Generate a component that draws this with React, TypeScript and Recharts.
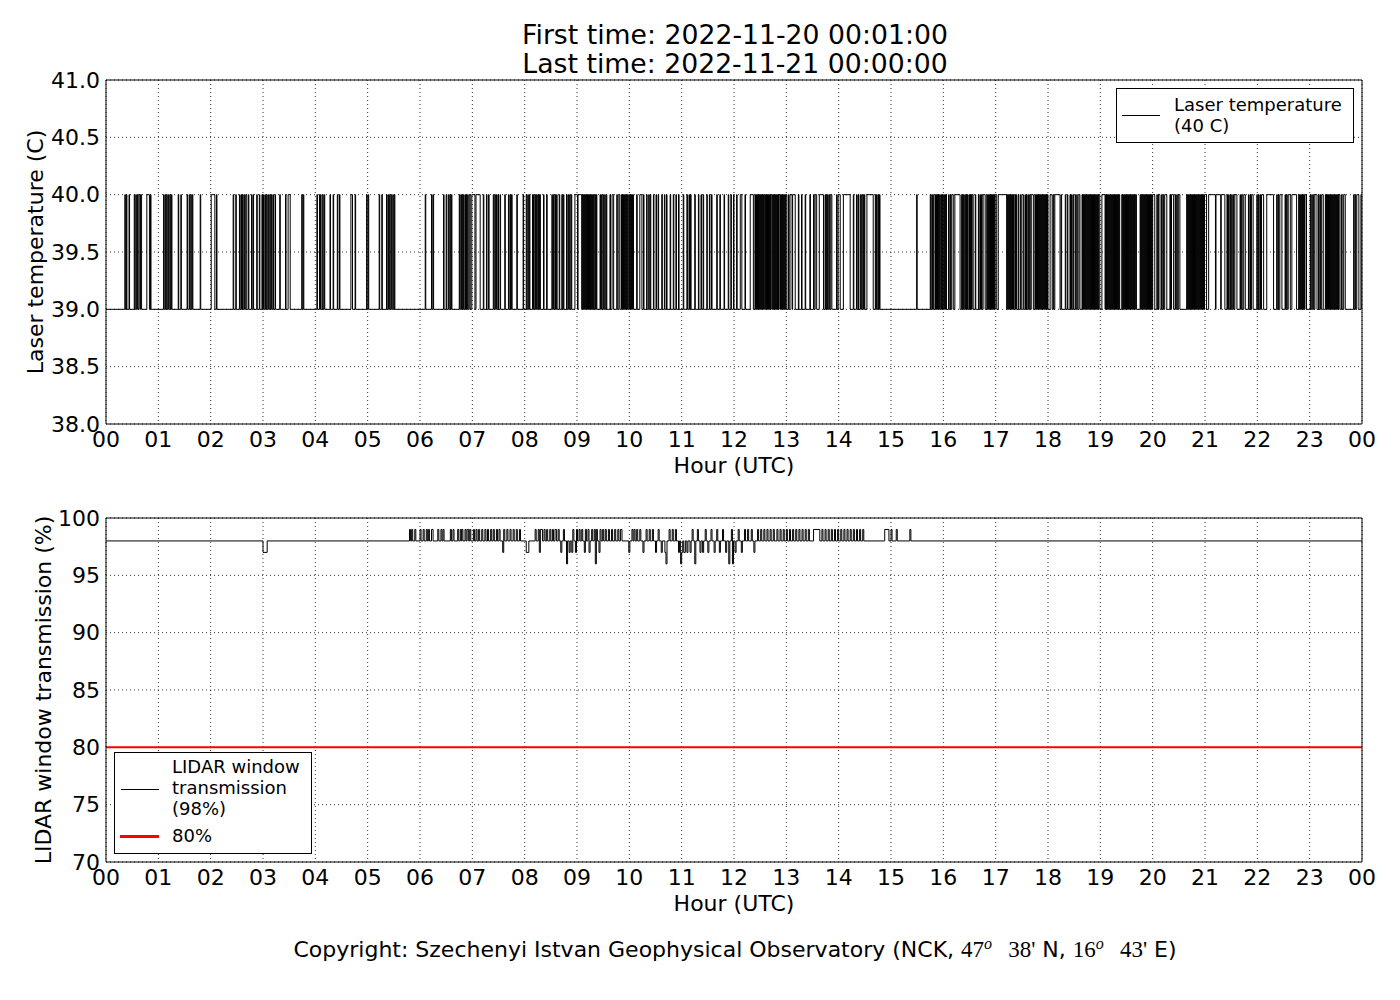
import React from "react";
import {
  LineChart,
  Line,
  XAxis,
  YAxis,
  CartesianGrid,
  ReferenceLine,
  Legend,
} from "recharts";

const FONT = "'DejaVu Sans', sans-serif";
const MATH = "'Liberation Serif', 'DejaVu Serif', serif";

const hourTicks = [0, 1, 2, 3, 4, 5, 6, 7, 8, 9, 10, 11, 12, 13, 14, 15, 16, 17, 18, 19, 20, 21, 22, 23, 24];
const laserTicks = [38, 38.5, 39, 39.5, 40, 40.5, 41];
const lidarTicks = [70, 75, 80, 85, 90, 95, 100];

const laserLow = 39;
const laserHigh = 40;
const lidarThreshold = 80;

// hours (UTC) where the laser sat at 40 C
const laserHighSpans: [number, number][] = [
  [0.36, 0.37], [0.39, 0.4], [0.44, 0.45], [0.54, 0.55], [0.57, 0.58], [0.6, 0.61], [0.63, 0.65], [0.66, 0.68], [0.78, 0.83], [0.85, 0.86],
  [1.1, 1.11], [1.13, 1.14], [1.16, 1.17], [1.19, 1.2], [1.22, 1.23], [1.25, 1.26], [1.38, 1.39], [1.43, 1.44], [1.55, 1.56], [1.59, 1.6], [1.62, 1.63], [1.65, 1.66], [1.8, 1.81],
  [2.01, 2.08], [2.11, 2.12], [2.43, 2.44], [2.48, 2.49], [2.55, 2.56], [2.58, 2.59], [2.61, 2.62], [2.64, 2.65], [2.67, 2.69], [2.72, 2.73], [2.78, 2.79], [2.81, 2.82], [2.88, 2.89], [2.93, 2.94], [2.98, 2.99],
  [3.01, 3.02], [3.04, 3.05], [3.07, 3.08], [3.1, 3.11], [3.13, 3.14], [3.16, 3.17], [3.19, 3.2], [3.23, 3.24], [3.32, 3.33], [3.43, 3.44], [3.48, 3.52], [3.74, 3.75], [3.77, 3.78],
  [4.03, 4.04], [4.08, 4.09], [4.1, 4.11], [4.14, 4.15], [4.17, 4.18], [4.28, 4.29], [4.34, 4.35], [4.42, 4.43], [4.46, 4.47], [4.68, 4.71], [4.76, 4.77], [4.98, 4.99],
  [5.01, 5.02], [5.22, 5.23], [5.27, 5.28], [5.36, 5.37], [5.39, 5.4], [5.42, 5.43], [5.45, 5.46], [5.48, 5.49], [5.51, 5.52],
  [6.1, 6.11], [6.22, 6.23], [6.25, 6.26], [6.45, 6.46], [6.5, 6.51], [6.54, 6.55], [6.57, 6.58], [6.6, 6.61], [6.75, 6.76], [6.78, 6.79], [6.8, 6.81], [6.83, 6.84], [6.86, 6.87], [6.88, 6.89], [6.91, 6.92], [6.94, 6.96], [6.99, 7.05],
  [7.07, 7.15], [7.21, 7.22], [7.27, 7.28], [7.31, 7.32], [7.4, 7.41], [7.43, 7.44], [7.46, 7.47], [7.49, 7.5], [7.53, 7.54], [7.62, 7.63], [7.69, 7.7], [7.72, 7.73], [7.75, 7.76], [7.85, 7.86], [7.97, 7.98],
  [8.03, 8.04], [8.06, 8.07], [8.09, 8.1], [8.15, 8.16], [8.17, 8.18], [8.2, 8.21], [8.22, 8.23], [8.25, 8.26], [8.27, 8.28], [8.29, 8.3], [8.36, 8.37], [8.42, 8.43], [8.52, 8.53], [8.55, 8.56], [8.58, 8.59], [8.61, 8.62], [8.66, 8.67], [8.71, 8.72], [8.74, 8.75], [8.8, 8.81], [8.83, 8.84], [8.86, 8.87], [8.89, 8.9], [8.96, 9.01],
  [9.02, 9.09], [9.1, 9.11], [9.12, 9.13], [9.14, 9.15], [9.16, 9.17], [9.18, 9.19], [9.2, 9.21], [9.22, 9.23], [9.24, 9.25], [9.26, 9.27], [9.28, 9.29], [9.3, 9.31], [9.32, 9.33], [9.35, 9.36], [9.37, 9.38], [9.44, 9.45], [9.47, 9.48], [9.5, 9.51], [9.53, 9.54], [9.56, 9.57], [9.63, 9.64], [9.67, 9.7], [9.76, 9.77], [9.8, 9.82], [9.85, 9.86], [9.87, 9.88], [9.89, 9.9], [9.91, 9.92], [9.93, 9.94], [9.95, 9.96], [9.97, 9.98],
  [10.0, 10.01], [10.02, 10.03], [10.04, 10.05], [10.06, 10.08], [10.14, 10.15], [10.2, 10.24], [10.27, 10.28], [10.33, 10.34], [10.37, 10.38], [10.4, 10.41], [10.46, 10.47], [10.51, 10.52], [10.55, 10.56], [10.62, 10.63], [10.67, 10.68], [10.71, 10.72], [10.78, 10.79], [10.84, 10.85], [10.89, 10.9], [10.94, 10.95],
  [11.03, 11.04], [11.1, 11.11], [11.14, 11.15], [11.17, 11.18], [11.25, 11.26], [11.32, 11.33], [11.37, 11.38], [11.41, 11.42], [11.48, 11.49], [11.53, 11.54], [11.57, 11.58], [11.67, 11.68], [11.73, 11.74], [11.81, 11.82], [11.89, 11.9], [11.94, 11.95], [11.99, 12.0],
  [12.05, 12.06], [12.12, 12.15], [12.21, 12.22], [12.31, 12.37], [12.4, 12.41], [12.42, 12.43], [12.44, 12.45], [12.46, 12.47], [12.48, 12.49], [12.5, 12.51], [12.52, 12.53], [12.54, 12.55], [12.56, 12.57], [12.58, 12.6], [12.61, 12.62], [12.63, 12.64], [12.65, 12.66], [12.67, 12.68], [12.69, 12.7], [12.71, 12.73], [12.74, 12.75], [12.76, 12.77], [12.78, 12.79], [12.8, 12.81], [12.82, 12.83], [12.84, 12.85], [12.86, 12.88], [12.89, 12.9], [12.91, 12.92], [12.93, 12.94], [12.95, 12.96], [12.97, 12.98], [12.99, 13.01],
  [13.04, 13.05], [13.07, 13.11], [13.12, 13.17], [13.23, 13.24], [13.29, 13.3], [13.36, 13.37], [13.45, 13.46], [13.52, 13.53], [13.55, 13.58], [13.63, 13.71], [13.74, 13.75], [13.77, 13.78], [13.79, 13.8], [13.82, 13.83], [13.85, 13.87], [13.96, 13.97], [13.99, 14.03],
  [14.09, 14.22], [14.28, 14.29], [14.34, 14.35], [14.37, 14.38], [14.41, 14.42], [14.44, 14.45], [14.47, 14.48], [14.49, 14.5], [14.54, 14.66], [14.7, 14.71], [14.72, 14.73], [14.75, 14.76], [14.78, 14.79],
  [15.49, 15.5], [15.75, 15.76], [15.78, 15.79], [15.8, 15.81], [15.84, 15.85], [15.86, 15.87], [15.88, 15.89], [15.9, 15.91], [15.92, 15.93], [15.95, 15.96], [15.97, 15.98], [15.99, 16.0],
  [16.02, 16.03], [16.04, 16.06], [16.1, 16.11], [16.13, 16.14], [16.16, 16.19], [16.22, 16.32], [16.35, 16.36], [16.37, 16.38], [16.39, 16.4], [16.42, 16.43], [16.44, 16.45], [16.46, 16.47], [16.49, 16.5], [16.51, 16.52], [16.53, 16.54], [16.55, 16.57], [16.61, 16.62], [16.67, 16.68], [16.7, 16.71], [16.73, 16.74], [16.76, 16.8], [16.83, 16.84], [16.85, 16.86], [16.87, 16.88], [16.89, 16.9], [16.91, 16.92], [16.93, 16.94], [16.95, 16.96], [16.97, 16.98], [16.99, 17.02],
  [17.05, 17.21], [17.22, 17.23], [17.24, 17.25], [17.26, 17.27], [17.28, 17.29], [17.3, 17.31], [17.32, 17.33], [17.34, 17.35], [17.37, 17.38], [17.39, 17.4], [17.43, 17.44], [17.47, 17.48], [17.5, 17.53], [17.56, 17.57], [17.59, 17.6], [17.62, 17.63], [17.65, 17.66], [17.68, 17.72], [17.75, 17.76], [17.77, 17.78], [17.79, 17.8], [17.81, 17.82], [17.83, 17.84], [17.85, 17.86], [17.87, 17.88], [17.89, 17.9], [17.91, 17.92], [17.93, 17.94], [17.95, 17.96], [17.97, 17.98], [17.99, 18.0],
  [18.04, 18.08], [18.1, 18.11], [18.13, 18.23], [18.25, 18.26], [18.33, 18.34], [18.37, 18.38], [18.42, 18.43], [18.45, 18.46], [18.48, 18.49], [18.52, 18.53], [18.55, 18.56], [18.59, 18.61], [18.65, 18.66], [18.67, 18.68], [18.69, 18.7], [18.71, 18.72], [18.73, 18.74], [18.75, 18.76], [18.77, 18.78], [18.79, 18.8], [18.81, 18.82], [18.83, 18.84], [18.85, 18.86], [18.87, 18.88], [18.89, 18.9], [18.91, 18.92], [18.93, 18.94], [18.95, 18.96], [18.97, 18.99],
  [19.03, 19.09], [19.1, 19.11], [19.12, 19.13], [19.14, 19.15], [19.16, 19.17], [19.18, 19.19], [19.2, 19.21], [19.22, 19.23], [19.24, 19.25], [19.26, 19.27], [19.28, 19.29], [19.3, 19.31], [19.32, 19.33], [19.34, 19.35], [19.36, 19.37], [19.41, 19.42], [19.43, 19.44], [19.45, 19.46], [19.47, 19.48], [19.49, 19.5], [19.51, 19.52], [19.53, 19.54], [19.55, 19.56], [19.57, 19.58], [19.59, 19.6], [19.61, 19.62], [19.63, 19.64], [19.65, 19.66], [19.67, 19.69], [19.76, 19.77], [19.78, 19.79], [19.8, 19.81], [19.82, 19.83], [19.84, 19.85], [19.86, 19.87], [19.88, 19.89], [19.9, 19.91], [19.92, 19.93], [19.94, 19.95], [19.96, 19.97], [19.98, 19.99],
  [20.0, 20.04], [20.08, 20.09], [20.11, 20.14], [20.17, 20.18], [20.2, 20.21], [20.23, 20.27], [20.33, 20.34], [20.36, 20.4], [20.43, 20.44], [20.46, 20.47], [20.49, 20.52], [20.65, 20.66], [20.67, 20.68], [20.69, 20.7], [20.71, 20.72], [20.73, 20.74], [20.75, 20.76], [20.77, 20.78], [20.79, 20.8], [20.81, 20.82], [20.83, 20.84], [20.85, 20.86], [20.87, 20.88], [20.89, 20.9], [20.91, 20.92], [20.93, 20.94], [20.95, 20.96], [20.97, 20.98], [20.99, 21.03],
  [21.07, 21.2], [21.21, 21.3], [21.31, 21.38], [21.42, 21.43], [21.45, 21.46], [21.48, 21.49], [21.51, 21.52], [21.54, 21.55], [21.57, 21.61], [21.67, 21.68], [21.7, 21.71], [21.74, 21.77], [21.83, 21.84], [21.86, 21.87], [21.89, 21.92], [21.99, 22.0],
  [22.02, 22.03], [22.05, 22.06], [22.08, 22.12], [22.18, 22.31], [22.37, 22.38], [22.4, 22.41], [22.43, 22.47], [22.53, 22.54], [22.56, 22.57], [22.59, 22.63], [22.66, 22.75], [22.79, 22.8], [22.81, 22.82], [22.83, 22.84], [22.85, 22.86], [22.87, 22.88], [22.89, 22.9], [22.91, 22.94],
  [23.01, 23.02], [23.04, 23.05], [23.07, 23.08], [23.1, 23.14], [23.17, 23.18], [23.2, 23.21], [23.23, 23.26], [23.3, 23.31], [23.32, 23.33], [23.34, 23.35], [23.36, 23.37], [23.38, 23.39], [23.4, 23.41], [23.42, 23.43], [23.44, 23.45], [23.46, 23.47], [23.48, 23.49], [23.5, 23.51], [23.52, 23.53], [23.54, 23.55], [23.56, 23.58], [23.61, 23.62], [23.65, 23.68], [23.84, 23.85], [23.87, 23.88], [23.9, 23.94], [23.98, 24.0],
];

// [hour, transmission %] — each value holds until the next hour
const lidarSteps: [number, number][] = [
  [0, 98], [3.0, 97], [3.08, 98],
  [5.8, 99], [5.82, 98], [5.84, 99], [5.86, 98], [5.9, 99], [5.92, 98], [6.0, 99], [6.02, 98], [6.06, 99], [6.08, 98], [6.12, 99], [6.14, 98], [6.16, 99], [6.18, 98], [6.22, 99], [6.25, 98], [6.34, 99], [6.36, 98], [6.4, 99], [6.42, 98], [6.44, 99], [6.46, 98], [6.58, 99], [6.6, 98], [6.63, 99], [6.65, 98], [6.72, 99], [6.74, 98], [6.77, 99], [6.79, 98], [6.8, 99], [6.82, 98], [6.86, 99], [6.88, 98], [6.9, 99], [6.93, 98], [6.95, 99], [6.97, 98],
  [7.02, 99], [7.04, 98], [7.07, 99], [7.09, 98], [7.12, 99], [7.14, 98], [7.18, 99], [7.2, 98], [7.24, 99], [7.26, 98], [7.29, 99], [7.31, 98], [7.35, 99], [7.37, 98], [7.4, 99], [7.42, 98], [7.46, 99], [7.48, 98], [7.51, 99], [7.53, 98], [7.58, 97], [7.6, 99], [7.62, 98], [7.66, 99], [7.68, 98], [7.72, 99], [7.74, 98], [7.78, 99], [7.8, 98], [7.84, 99], [7.86, 98], [7.9, 99], [7.92, 98],
  [8.03, 97], [8.08, 98], [8.2, 99], [8.22, 98], [8.26, 99], [8.28, 97], [8.3, 99], [8.34, 98], [8.37, 99], [8.39, 98], [8.42, 99], [8.44, 98], [8.48, 99], [8.5, 98], [8.53, 99], [8.55, 98], [8.58, 99], [8.61, 98], [8.64, 99], [8.66, 98], [8.69, 97], [8.71, 98], [8.74, 99], [8.76, 98], [8.8, 96], [8.82, 98], [8.85, 97], [8.87, 98], [8.9, 97], [8.92, 99], [8.94, 98], [8.97, 97], [8.99, 99],
  [9.01, 98], [9.04, 99], [9.06, 98], [9.09, 99], [9.11, 98], [9.14, 97], [9.16, 99], [9.18, 98], [9.21, 99], [9.23, 97], [9.25, 98], [9.28, 99], [9.3, 98], [9.33, 99], [9.35, 96], [9.37, 99], [9.39, 98], [9.42, 97], [9.44, 99], [9.46, 98], [9.49, 99], [9.51, 98], [9.54, 99], [9.56, 98], [9.6, 99], [9.62, 98], [9.66, 99], [9.68, 98], [9.72, 99], [9.74, 98], [9.78, 99], [9.8, 98], [9.83, 99], [9.86, 98], [9.99, 97],
  [10.01, 98], [10.05, 99], [10.07, 98], [10.09, 99], [10.11, 98], [10.14, 99], [10.16, 98], [10.2, 99], [10.22, 98], [10.26, 97], [10.28, 98], [10.32, 99], [10.34, 98], [10.38, 99], [10.4, 98], [10.44, 99], [10.46, 98], [10.5, 97], [10.52, 98], [10.55, 99], [10.57, 98], [10.61, 97], [10.63, 98], [10.68, 97], [10.7, 96], [10.72, 98], [10.76, 99], [10.78, 98], [10.82, 99], [10.84, 98], [10.88, 99], [10.9, 98], [10.94, 97], [10.96, 98], [10.98, 96],
  [11.0, 97], [11.02, 98], [11.04, 97], [11.07, 98], [11.1, 97], [11.12, 98], [11.16, 97], [11.18, 98], [11.2, 99], [11.22, 98], [11.25, 96], [11.27, 98], [11.3, 99], [11.32, 98], [11.35, 97], [11.37, 98], [11.4, 97], [11.42, 98], [11.45, 99], [11.47, 98], [11.5, 97], [11.52, 98], [11.56, 99], [11.58, 98], [11.62, 97], [11.64, 98], [11.67, 99], [11.69, 98], [11.72, 97], [11.74, 98], [11.78, 99], [11.8, 98], [11.84, 97], [11.86, 98], [11.9, 96], [11.92, 98], [11.95, 99], [11.97, 96], [11.99, 98],
  [12.02, 97], [12.04, 98], [12.08, 99], [12.1, 98], [12.14, 97], [12.16, 98], [12.2, 99], [12.22, 98], [12.26, 99], [12.28, 98], [12.33, 99], [12.35, 98], [12.38, 97], [12.4, 98], [12.45, 99], [12.47, 98], [12.51, 99], [12.53, 98], [12.57, 99], [12.59, 98], [12.63, 99], [12.65, 98], [12.69, 99], [12.71, 98], [12.75, 99], [12.77, 98], [12.82, 99], [12.84, 98], [12.88, 99], [12.9, 98], [12.94, 99], [12.96, 98],
  [13.0, 99], [13.02, 98], [13.06, 99], [13.08, 98], [13.12, 99], [13.14, 98], [13.18, 99], [13.2, 98], [13.24, 99], [13.26, 98], [13.3, 99], [13.32, 98], [13.36, 99], [13.38, 98], [13.42, 99], [13.44, 98], [13.52, 99], [13.64, 98], [13.68, 99], [13.7, 98], [13.74, 99], [13.76, 98], [13.8, 99], [13.82, 98], [13.86, 99], [13.88, 98], [13.92, 99], [13.94, 98], [13.98, 99],
  [14.0, 98], [14.04, 99], [14.06, 98], [14.1, 99], [14.12, 98], [14.16, 99], [14.18, 98], [14.22, 99], [14.24, 98], [14.28, 99], [14.3, 98], [14.34, 99], [14.36, 98], [14.4, 99], [14.42, 98], [14.46, 99], [14.48, 98],
  [14.88, 99], [14.96, 98], [15.0, 99], [15.02, 98], [15.1, 99], [15.12, 98], [15.36, 99], [15.38, 98], [24, 98],
];

const laserData: { t: number; v: number }[] = [{ t: 0, v: laserLow }];
laserHighSpans.forEach(([a, b]) => {
  laserData.push({ t: a, v: laserHigh });
  laserData.push({ t: b, v: laserLow });
});

const lidarData = lidarSteps.map(([t, v]) => ({ t, v }));

const fmtHour = (h: number) => String(h % 24).padStart(2, "0");
const tickStyle = { fill: "#000", fontSize: 22, fontFamily: FONT };

function frameAxes(yDomain: [number, number], yTicks: number[], fmtY: (v: number) => string) {
  return [
    <CartesianGrid
      key="grid"
      xAxisId="b"
      yAxisId="l"
      stroke="#000"
      strokeWidth={0.8}
      strokeDasharray="1 3"
    />,
    <XAxis
      key="xb"
      xAxisId="b"
      type="number"
      dataKey="t"
      domain={[0, 24]}
      ticks={hourTicks}
      interval={0}
      allowDataOverflow
      tickFormatter={fmtHour}
      height={60}
      tickSize={0}
      tickMargin={7}
      tickLine={false}
      axisLine={{ stroke: "#000" }}
      tick={tickStyle}
      label={{ value: "Hour (UTC)", position: "insideTop", offset: 33, fill: "#000", fontSize: 22, fontFamily: FONT }}
    />,
    <XAxis
      key="xbm"
      xAxisId="bm"
      type="number"
      domain={[0, 24]}
      ticks={hourTicks}
      interval={0}
      allowDataOverflow
      mirror
      tick={false}
      tickSize={6}
      axisLine={false}
      tickLine={{ stroke: "#000" }}
    />,
    <XAxis
      key="xt"
      xAxisId="t"
      orientation="top"
      type="number"
      domain={[0, 24]}
      ticks={hourTicks}
      interval={0}
      allowDataOverflow
      mirror
      tick={false}
      tickSize={6}
      axisLine={{ stroke: "#000" }}
      tickLine={{ stroke: "#000" }}
    />,
    <YAxis
      key="yl"
      yAxisId="l"
      type="number"
      domain={yDomain}
      ticks={yTicks}
      interval={0}
      allowDataOverflow
      width={70}
      tickSize={0}
      tickMargin={6}
      tickLine={false}
      tickFormatter={fmtY}
      axisLine={{ stroke: "#000" }}
      tick={tickStyle}
    />,
    <YAxis
      key="ylm"
      yAxisId="lm"
      type="number"
      domain={yDomain}
      ticks={yTicks}
      interval={0}
      allowDataOverflow
      mirror
      tick={false}
      tickSize={6}
      axisLine={false}
      tickLine={{ stroke: "#000" }}
    />,
    <YAxis
      key="yr"
      yAxisId="r"
      orientation="right"
      type="number"
      domain={yDomain}
      ticks={yTicks}
      interval={0}
      allowDataOverflow
      mirror
      tick={false}
      tickSize={6}
      axisLine={{ stroke: "#000" }}
      tickLine={{ stroke: "#000" }}
    />,
  ];
}

const legendBox: React.CSSProperties = {
  position: "relative",
  boxSizing: "border-box",
  border: "1px solid #000",
  background: "#fff",
  fontFamily: FONT,
  fontSize: 18,
  lineHeight: "21px",
  color: "#000",
};

function LaserLegend() {
  return (
    <div style={{ ...legendBox, width: 238, height: 55 }}>
      <div style={{ position: "absolute", left: 5, top: 26, width: 38, height: 1, background: "#000" }} />
      <div style={{ position: "absolute", left: 57, top: 5 }}>
        Laser temperature
        <br />
        (40 C)
      </div>
    </div>
  );
}

function LidarLegend() {
  return (
    <div style={{ ...legendBox, width: 198, height: 102 }}>
      <div style={{ position: "absolute", left: 6, top: 36, width: 38, height: 1, background: "#000" }} />
      <div style={{ position: "absolute", left: 57, top: 3 }}>
        LIDAR window
        <br />
        transmission
        <br />
        (98%)
      </div>
      <div style={{ position: "absolute", left: 5, top: 82, width: 39, height: 2.5, background: "#ff0000" }} />
      <div style={{ position: "absolute", left: 57, top: 72 }}>80%</div>
    </div>
  );
}

const yLabel = (text: string, cx: number, cy: number) => (
  <div
    style={{
      position: "absolute",
      left: cx,
      top: cy,
      transform: "translate(-50%, -50%) rotate(-90deg)",
      whiteSpace: "nowrap",
      fontFamily: FONT,
      fontSize: 22,
      color: "#000",
    }}
  >
    {text}
  </div>
);

const mathStyle: React.CSSProperties = { fontFamily: MATH, fontSize: 23 };
const supStyle: React.CSSProperties = { fontStyle: "italic", fontSize: 16, verticalAlign: "0.5em", lineHeight: 0 };

export default function App() {
  return (
    <div style={{ position: "absolute", left: 0, top: 0, width: 1400, height: 1000, background: "#fff" }}>
      <div
        style={{
          position: "absolute",
          left: 0,
          top: 20,
          width: 1470,
          textAlign: "center",
          fontFamily: FONT,
          fontSize: 26.7,
          lineHeight: "29px",
          color: "#000",
        }}
      >
        First time: 2022-11-20 00:01:00
        <br />
        Last time: 2022-11-21 00:00:00
      </div>

      <div style={{ position: "absolute", left: 0, top: 0 }}>
        <LineChart width={1400} height={500} data={laserData} margin={{ top: 80, right: 38, bottom: 16, left: 36 }}>
          {frameAxes([38, 41], laserTicks, (v) => v.toFixed(1))}
          <Legend
            layout="horizontal"
            verticalAlign="middle"
            align="center"
            wrapperStyle={{ left: 1116, top: 88, width: 238, height: 55 }}
            content={() => <LaserLegend />}
          />
          <Line
            xAxisId="b"
            yAxisId="l"
            type="stepAfter"
            dataKey="v"
            name="Laser temperature (40 C)"
            stroke="#000"
            strokeWidth={1}
            dot={false}
            isAnimationActive={false}
          />
        </LineChart>
      </div>

      <div style={{ position: "absolute", left: 0, top: 490 }}>
        <LineChart width={1400} height={440} data={lidarData} margin={{ top: 28, right: 38, bottom: 8, left: 36 }}>
          {frameAxes([70, 100], lidarTicks, (v) => String(v))}
          <Legend
            layout="horizontal"
            verticalAlign="middle"
            align="center"
            wrapperStyle={{ left: 114, top: 262, width: 198, height: 102 }}
            content={() => <LidarLegend />}
          />
          <ReferenceLine xAxisId="b" yAxisId="l" y={lidarThreshold} stroke="#ff0000" strokeWidth={2} />
          <Line
            xAxisId="b"
            yAxisId="l"
            type="stepAfter"
            dataKey="v"
            name="LIDAR window transmission (98%)"
            stroke="#000"
            strokeWidth={1}
            dot={false}
            isAnimationActive={false}
          />
        </LineChart>
      </div>

      {yLabel("Laser temperature (C)", 35, 252)}
      {yLabel("LIDAR window transmission (%)", 43, 690)}

      <div
        style={{
          position: "absolute",
          left: 0,
          top: 937,
          width: 1470,
          textAlign: "center",
          fontFamily: FONT,
          fontSize: 22,
          lineHeight: "26px",
          color: "#000",
          whiteSpace: "nowrap",
        }}
      >
        Copyright: Szechenyi Istvan Geophysical Observatory (NCK,{" "}
        <span style={mathStyle}>
          47<span style={supStyle}>o</span>
          {"\u2002\u2009"}38'
        </span>{" "}
        N,{" "}
        <span style={mathStyle}>
          16<span style={supStyle}>o</span>
          {"\u2002\u2009"}43'
        </span>{" "}
        E)
      </div>
    </div>
  );
}
